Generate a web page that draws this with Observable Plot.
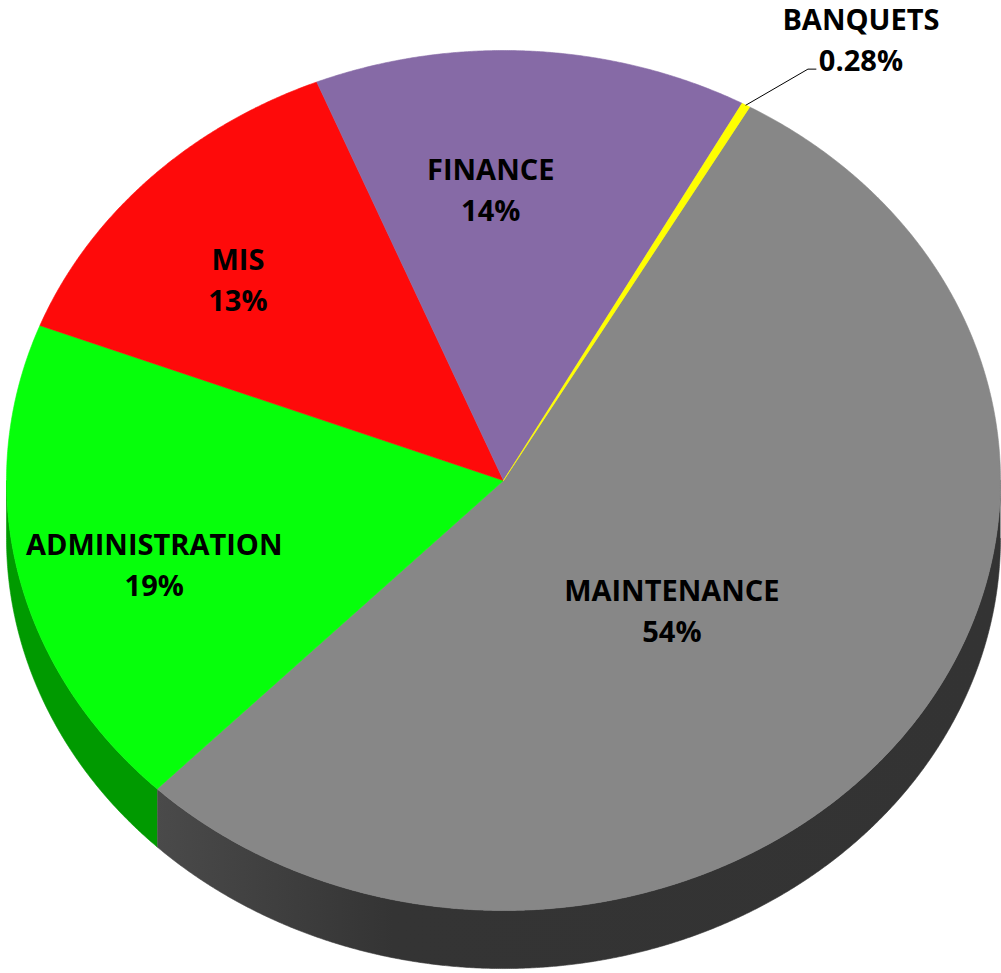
<!DOCTYPE html>
<html>
<head>
<meta charset="utf-8">
<script src="https://cdn.jsdelivr.net/npm/d3@7"></script>
<script src="https://cdn.jsdelivr.net/npm/@observablehq/plot@0.6"></script>
<style>
  html, body { margin: 0; padding: 0; background: #ffffff; }
  #chart svg { display: block; }
</style>
</head>
<body>
<div id="chart"></div>
<script>
// ---- data ----
const categories = ["MAINTENANCE", "ADMINISTRATION", "MIS", "FINANCE", "BANQUETS"];
const values = [54.02, 18.6, 13.0, 14.1, 0.28];
const topColors = ["#878787", "#06ff0b", "#fe0a0a", "#866aa6", "#ffff00"];
const sideColors = ["url(#sideGrayGrad)", "#009a00", "#a00000", "#56407a", "#b0b000"];
const firstSliceAngle = 29.7; // degrees clockwise from 12 o'clock
const depth = 0.135;          // pie thickness, in y-domain units

// ---- geometry derived from data ----
const total = d3.sum(values);
let cum = 0;
const slices = categories.map((c, i) => {
  const a0 = firstSliceAngle + cum / total * 360;
  cum += values[i];
  const a1 = firstSliceAngle + cum / total * 360;
  const pct = values[i] / total * 100;
  const pctText = pct < 1 ? pct.toFixed(2) : String(Math.round(pct));
  return {key: c, i, a0, a1, mid: (a0 + a1) / 2, label: c + "\n" + pctText + "%"};
});

const rad = d => d * Math.PI / 180;
const pt = (deg, r = 1, off = 0) => ({x: r * Math.sin(rad(deg)), y: r * Math.cos(rad(deg)) - off});
function arc(a0, a1, off = 0) {
  const n = Math.max(2, Math.ceil((a1 - a0) / 0.25));
  return d3.range(n + 1).map(k => pt(a0 + (a1 - a0) * k / n, 1, off));
}

const topPts = slices.flatMap(s =>
  [{x: 0, y: 0}, ...arc(s.a0, s.a1), {x: 0, y: 0}]
    .map(p => ({...p, key: s.key, fill: topColors[s.i]})));

const sidePts = slices.flatMap(s =>
  [[90, 270], [450, 630]].flatMap(([w0, w1], j) => {
    const b0 = Math.max(s.a0, w0), b1 = Math.min(s.a1, w1);
    if (b1 <= b0) return [];
    const pts = [...arc(b0, b1), ...arc(b0, b1, depth).reverse()];
    return pts.map(p => ({...p, key: s.key + "-side" + j, fill: sideColors[s.i]}));
  }));

// label placement: mid-angle at 0.6 radius, then nudged (pixels)
const labelNudge = {
  MAINTENANCE: [-70, -27],
  ADMINISTRATION: [-58, 27],
  MIS: [-53, -22],
  FINANCE: [-30, -36]
};
const inner = slices.filter(s => labelNudge[s.key]);
const outer = slices.filter(s => !labelNudge[s.key]);

const xRange = [6, 1000], yRange = [910, 50];
const pxX = 2 / (xRange[1] - xRange[0]);
const pxY = 2 / (yRange[0] - yRange[1]);

const leaderPts = outer.flatMap(s => {
  const e = pt(s.mid, 1);
  return [e, {x: e.x + 62 * pxX, y: e.y + 36 * pxY}, {x: e.x + 70 * pxX, y: e.y + 36 * pxY}]
    .map(p => ({...p, key: s.key}));
});

const textStyle = {
  text: "label",
  fontSize: 29,
  fontWeight: "bold",
  fontFamily: "'Open Sans', 'Liberation Sans', sans-serif",
  lineHeight: 1.42,
  fill: "black",
  textAnchor: "middle",
  lineAnchor: "middle"
};

const plot = Plot.plot({
  width: 1001,
  height: 973,
  margin: 0,
  style: {background: "white", overflow: "visible"},
  x: {domain: [-1, 1], range: xRange, axis: null},
  y: {domain: [-1, 1], range: yRange, axis: null},
  color: {type: "identity"},
  marks: [
    Plot.line(sidePts, {x: "x", y: "y", z: "key", fill: "fill", stroke: "fill", strokeWidth: 0.6, curve: "linear"}),
    Plot.line(topPts, {x: "x", y: "y", z: "key", fill: "fill", stroke: "fill", strokeWidth: 0.6, curve: "linear"}),
    Plot.line(leaderPts, {x: "x", y: "y", z: "key", stroke: "black", strokeWidth: 1}),
    ...inner.map(s => Plot.text([s], {
      ...textStyle,
      x: d => 0.6 * Math.sin(rad(d.mid)),
      y: d => 0.6 * Math.cos(rad(d.mid)),
      dx: labelNudge[s.key][0],
      dy: labelNudge[s.key][1]
    })),
    ...outer.map(s => Plot.text([s], {
      ...textStyle,
      x: d => Math.sin(rad(d.mid)),
      y: d => Math.cos(rad(d.mid)),
      dx: 115,
      dy: -68
    }))
  ]
});

const defs = d3.select(plot).insert("defs", ":first-child");
const g = defs.append("linearGradient").attr("id", "sideGrayGrad")
  .attr("x1", "0").attr("y1", "0").attr("x2", "1").attr("y2", "0");
g.append("stop").attr("offset", "0").attr("stop-color", "#4a4a4a");
g.append("stop").attr("offset", "0.28").attr("stop-color", "#343434");
g.append("stop").attr("offset", "1").attr("stop-color", "#333333");

document.getElementById("chart").appendChild(plot);
</script>
</body>
</html>
